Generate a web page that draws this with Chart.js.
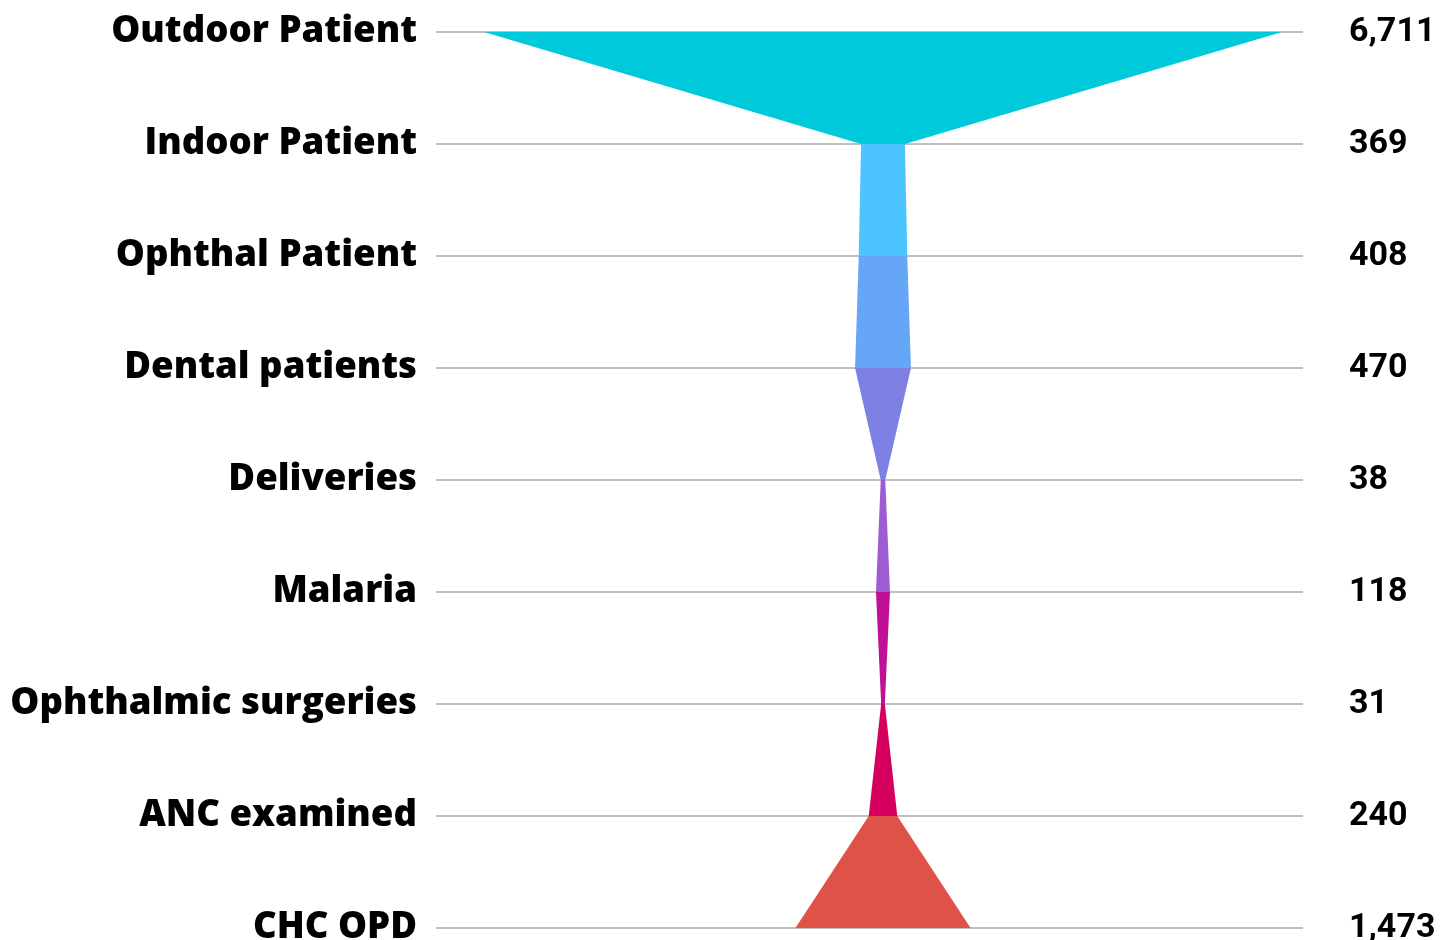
<!DOCTYPE html>
<html>
<head>
<meta charset="utf-8">
<script src="https://cdn.jsdelivr.net/npm/chart.js@4.4.1/dist/chart.umd.min.js"></script>
<style>
  html, body { margin: 0; padding: 0; background: #fff; overflow: hidden; }
  #wrap { width: 1452px; height: 940px; position: relative; }
</style>
</head>
<body>
<div id="wrap"><canvas id="funnel"></canvas></div>
<script>
// funnel data, one row per stage
const categories = ['Outdoor Patient', 'Indoor Patient', 'Ophthal Patient', 'Dental patients',
    'Deliveries', 'Malaria', 'Ophthalmic surgeries', 'ANC examined', 'CHC OPD'];
const values = [6711, 369, 408, 470, 38, 118, 31, 240, 1473];
const valueLabels = ['6,711', '369', '408', '470', '38', '118', '31', '240', '1,473'];
// colour of the band that goes from stage i down to stage i+1
const bandColors = ['#00C9DB', '#4BC4FF', '#66A6F7', '#7E80E3', '#9E5BD2', '#BE1196', '#D5005D', '#DE5247'];

document.addEventListener('DOMContentLoaded', () => {
    const labelFont = { family: '"Open Sans", sans-serif', weight: 800, size: 36.6 };
    const valueFont = { family: 'Roboto, sans-serif', weight: 'bold', size: 34 };

    // fixed axis widths so the plot area lands where the original has it
    const fixWidth = (w) => (scale) => {
        scale.width = w;
        scale.paddingTop = 0;
        scale.paddingBottom = 0;
    };

    new Chart(document.getElementById('funnel'), {
        type: 'line',
        data: {
            labels: categories,
            datasets: [
                {
                    // right edge of the funnel
                    data: values.map(v => v / 2),
                    borderWidth: 0,
                    borderColor: 'rgba(0,0,0,0)',
                    pointRadius: 0,
                    fill: false,
                },
                {
                    // left edge, filled back to the right edge
                    data: values.map(v => -v / 2),
                    borderWidth: 0,
                    borderColor: 'rgba(0,0,0,0)',
                    pointRadius: 0,
                    fill: '-1',
                    segment: {
                        backgroundColor: (c) => bandColors[c.p0DataIndex],
                    },
                },
            ],
        },
        options: {
            indexAxis: 'y',
            responsive: true,
            maintainAspectRatio: false,
            animation: false,
            layout: { padding: { top: 32, bottom: 12, left: 0, right: 0 } },
            plugins: {
                legend: { display: false },
                tooltip: { enabled: false },
            },
            scales: {
                x: {
                    type: 'linear',
                    min: -3759,
                    max: 3532,
                    display: false,
                },
                y: {
                    type: 'category',
                    position: 'left',
                    offset: false,
                    border: { display: false },
                    grid: { color: '#c0c0c0', lineWidth: 2, drawTicks: false },
                    ticks: { color: '#000', font: labelFont, padding: 19, autoSkip: false },
                    afterFit: fixWidth(436),
                },
                y2: {
                    type: 'category',
                    labels: valueLabels,
                    position: 'right',
                    offset: false,
                    border: { display: false },
                    grid: { display: false, drawOnChartArea: false, drawTicks: false },
                    ticks: { color: '#000', font: valueFont, padding: 46, autoSkip: false },
                    afterFit: fixWidth(149),
                },
            },
        },
    });
});
</script>
</body>
</html>
